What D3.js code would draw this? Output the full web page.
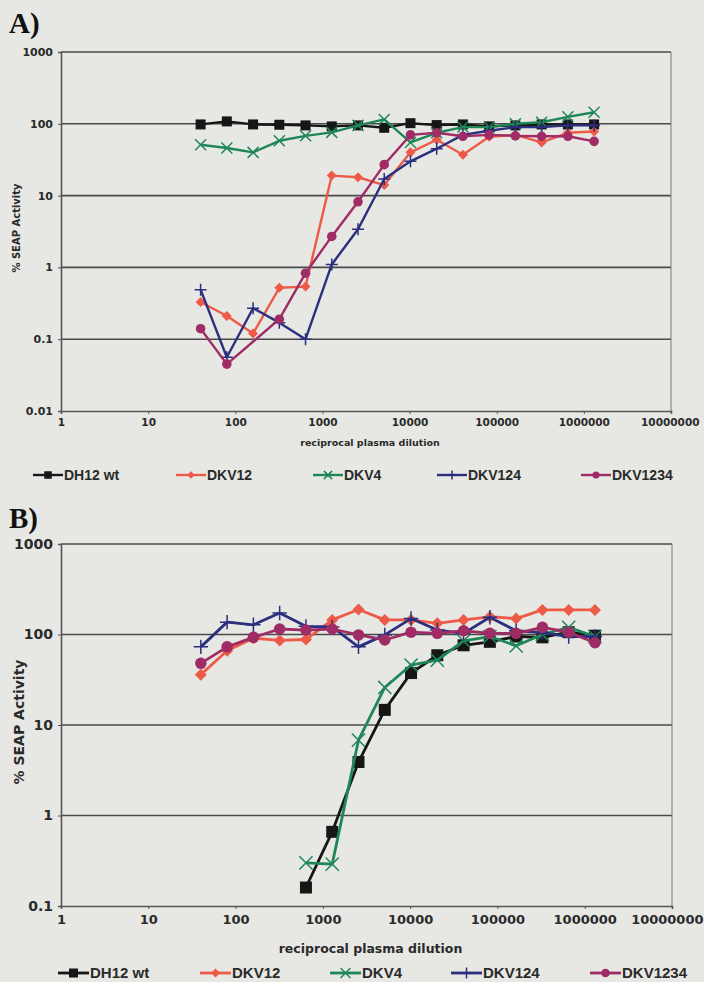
<!DOCTYPE html>
<html>
<head>
<meta charset="utf-8">
<script src="https://cdnjs.cloudflare.com/ajax/libs/d3/7.8.5/d3.min.js"></script>
<style>
  body { margin: 0; background: #e7e8e4; }
  svg { display: block; }
</style>
</head>
<body>
<div id="chart"></div>
<script>
// reciprocal plasma dilutions (x)
var dilutions = [40, 80, 160, 320, 640, 1280, 2560, 5120, 10240, 20480, 40960, 81920, 163840, 327680, 655360, 1310720];

var seriesNames = ["DH12 wt", "DKV12", "DKV4", "DKV124", "DKV1234"];
var seriesColors = ["#161616", "#ee5a48", "#1f8657", "#2b2f7e", "#a02c66"];
var seriesMarkers = ["square", "diamond", "x", "plus", "circle"];

// panel A : % SEAP activity
var dh12A    = [98, 108, 98, 97, 95, 92, 95, 88, 102, 96, 98, 92, 95, 98, 98, 98];
var dkv12A   = [0.33, 0.21, 0.12, 0.52, 0.54, 19, 18, 14, 40, 60, 37, 66, 70, 55, 75, 78];
var dkv4A    = [51, 46, 40, 58, 68, 76, 95, 115, 55, 75, 90, 90, 100, 105, 125, 145];
var dkv124A  = [0.49, 0.056, 0.27, 0.17, 0.1, 1.1, 3.4, 17, 30, 45, 70, 80, 90, 90, 95, 95];
var dkv1234A = [0.14, 0.045, null, 0.19, 0.83, 2.7, 8.2, 27, 70, 75, 67, 70, 68, 67, 67, 57];

// panel B : % SEAP activity
var dh12B    = [null, null, null, null, 0.16, 0.66, 3.9, 14.7, 37.5, 59, 76, 83, 95, 93, 106, 97];
var dkv12B   = [36, 66, 91, 86, 88, 145, 189, 145, 145, 133, 145, 157, 150, 187, 187, 187];
var dkv4B    = [null, null, null, null, 0.3, 0.29, 6.8, 26, 46, 52, 85, 95, 75, 100, 120, 95];
var dkv124B  = [73, 137, 128, 173, 123, 121, 73, 99, 150, 112, 103, 155, 110, 105, 95, 95];
var dkv1234B = [48, 73, 93, 115, 112, 115, 99, 87, 106, 103, 110, 103, 103, 120, 106, 81];

var xTicks = [1, 10, 100, 1000, 10000, 100000, 1000000, 10000000];
var yTicksA = [0.01, 0.1, 1, 10, 100, 1000];
var yTicksB = [0.1, 1, 10, 100, 1000];

var W = 704, H = 982;
var svg = d3.select("#chart").append("svg").attr("width", W).attr("height", H);

var drawPanel = function(p) {
  var x = d3.scaleLog().domain([1, 1e7]).range([p.left, p.right]);
  var y = d3.scaleLog().domain([p.yTicks[0], 1000]).range([p.bottom, p.top]);
  var g = svg.append("g");

  // panel letter
  g.append("text")
    .attr("x", 9).attr("y", p.letterY)
    .attr("font-family", "Liberation Serif, DejaVu Serif, serif")
    .attr("font-weight", "bold").attr("font-size", 29)
    .attr("fill", "#111")
    .text(p.letter);

  // gridlines
  g.selectAll(".grid").data(p.yTicks.slice(1)).enter().append("line")
    .attr("x1", p.left).attr("x2", p.right)
    .attr("y1", function(d) { return y(d); }).attr("y2", function(d) { return y(d); })
    .attr("stroke", "#4a4a4a").attr("stroke-width", 1.6);

  // right border
  g.append("line").attr("x1", p.right).attr("x2", p.right)
    .attr("y1", p.top).attr("y2", p.bottom)
    .attr("stroke", "#7a7a7a").attr("stroke-width", 1);

  // axes
  var xAxis = d3.axisBottom(x).tickValues(xTicks).tickSize(3).tickFormat(d3.format("d"));
  var xg = g.append("g").attr("transform", "translate(0," + p.bottom + ")").call(xAxis);
  xg.select(".domain").attr("stroke", "#555").attr("stroke-width", 1.6);
  xg.selectAll(".tick line").attr("stroke", "#555");
  xg.selectAll("text")
    .attr("font-family", "DejaVu Sans, Verdana, sans-serif").attr("font-weight", "bold")
    .attr("font-size", p.xTickSize).attr("fill", "#2a2a2a").attr("dy", p.xTickDy);
  // keep the last label inside the page
  xg.selectAll(".tick text").filter(function(d) { return d == 1e7; })
    .attr("text-anchor", "end").attr("x", p.lastTickEnd - p.right);

  var yAxis = d3.axisLeft(y).tickValues(p.yTicks).tickSize(3)
    .tickFormat(function(d) { return d < 1 ? String(d) : d3.format("d")(d); });
  var yg = g.append("g").attr("transform", "translate(" + p.left + ",0)").call(yAxis);
  yg.select(".domain").attr("stroke", "#555").attr("stroke-width", 1.6);
  yg.selectAll(".tick line").attr("stroke", "#555");
  yg.selectAll("text")
    .attr("font-family", "DejaVu Sans, Verdana, sans-serif").attr("font-weight", "bold")
    .attr("font-size", p.yTickSize).attr("fill", "#2a2a2a").attr("x", -8);

  // axis titles
  g.append("text")
    .attr("x", (p.left + p.right) / 2 + 4).attr("y", p.xTitleY)
    .attr("text-anchor", "middle")
    .attr("font-family", "DejaVu Sans, Verdana, sans-serif").attr("font-weight", "bold")
    .attr("font-size", p.xTitleSize).attr("fill", "#2a2a2a")
    .text("reciprocal plasma dilution");
  g.append("text")
    .attr("transform", "translate(" + p.yTitleX + "," + p.yTitleY + ") rotate(-90)")
    .attr("text-anchor", "middle")
    .attr("font-family", "DejaVu Sans, Verdana, sans-serif").attr("font-weight", "bold")
    .attr("font-size", p.yTitleSize).attr("fill", "#2a2a2a")
    .text("% SEAP Activity");

  // series
  var line = d3.line()
    .x(function(d) { return x(d.x); })
    .y(function(d) { return y(d.v); });

  p.series.forEach(function(vals, i) {
    var pts = dilutions.map(function(dx, j) { return { x: dx, v: vals[j] }; })
      .filter(function(d) { return d.v != null; });
    g.append("path").datum(pts)
      .attr("d", line).attr("fill", "none")
      .attr("stroke", seriesColors[i]).attr("stroke-width", p.lineW)
      .attr("stroke-linejoin", "round");
    var mk = g.append("g");
    pts.forEach(function(d) {
      drawMarker(mk, seriesMarkers[i], x(d.x), y(d.v), seriesColors[i], p.mSize);
    });
  });

  // legend
  p.legendX.forEach(function(lx, i) {
    var lg = g.append("g");
    lg.append("line")
      .attr("x1", lx).attr("x2", lx + p.legendLine)
      .attr("y1", p.legendY).attr("y2", p.legendY)
      .attr("stroke", seriesColors[i]).attr("stroke-width", p.lineW);
    drawMarker(lg, seriesMarkers[i], lx + p.legendLine / 2, p.legendY, seriesColors[i], p.mSize * 0.75);
    lg.append("text")
      .attr("x", lx + p.legendLine + 1).attr("y", p.legendY).attr("dy", "0.36em")
      .attr("font-family", "Liberation Sans, Arial, sans-serif").attr("font-weight", "bold")
      .attr("font-size", p.legendSize).attr("fill", "#2a2a2a")
      .text(seriesNames[i]);
  });
};

var drawMarker = function(g, type, cx, cy, color, s) {
  if (type == "square") {
    g.append("rect").attr("x", cx - s / 2).attr("y", cy - s / 2)
      .attr("width", s).attr("height", s).attr("fill", color);
  } else if (type == "diamond") {
    var r = s * 0.5;
    g.append("path")
      .attr("d", "M" + cx + "," + (cy - r) + "L" + (cx + r) + "," + cy + "L" + cx + "," + (cy + r) + "L" + (cx - r) + "," + cy + "Z")
      .attr("fill", color);
  } else if (type == "circle") {
    g.append("circle").attr("cx", cx).attr("cy", cy).attr("r", s * 0.48).attr("fill", color);
  } else if (type == "x") {
    var a = s * 0.55;
    g.append("path")
      .attr("d", "M" + (cx - a) + "," + (cy - a) + "L" + (cx + a) + "," + (cy + a) + "M" + (cx - a) + "," + (cy + a) + "L" + (cx + a) + "," + (cy - a))
      .attr("stroke", color).attr("stroke-width", 1.5).attr("fill", "none");
  } else if (type == "plus") {
    var b = s * 0.6;
    g.append("path")
      .attr("d", "M" + (cx - b) + "," + cy + "L" + (cx + b) + "," + cy + "M" + cx + "," + (cy - b) + "L" + cx + "," + (cy + b))
      .attr("stroke", color).attr("stroke-width", 1.5).attr("fill", "none");
  }
};

drawPanel({
  letter: "A)", letterY: 33,
  left: 61, right: 671, top: 52, bottom: 411,
  yTicks: yTicksA,
  series: [dh12A, dkv12A, dkv4A, dkv124A, dkv1234A],
  xTickSize: 10.5, xTickDy: "0.9em", yTickSize: 11, lastTickEnd: 699,
  xTitleY: 446, xTitleSize: 9.5,
  yTitleX: 20, yTitleY: 228, yTitleSize: 10,
  lineW: 2.4, mSize: 10,
  legendY: 475, legendLine: 30, legendSize: 14,
  legendX: [33, 176, 313, 437, 581]
});

drawPanel({
  letter: "B)", letterY: 528,
  left: 61, right: 672, top: 544, bottom: 906,
  yTicks: yTicksB,
  series: [dh12B, dkv12B, dkv4B, dkv124B, dkv1234B],
  xTickSize: 13, xTickDy: "0.95em", yTickSize: 14, lastTickEnd: 703,
  xTitleY: 953, xTitleSize: 12.5,
  yTitleX: 24, yTitleY: 722, yTitleSize: 14,
  lineW: 2.8, mSize: 12,
  legendY: 973, legendLine: 31, legendSize: 15,
  legendX: [58, 200, 330, 451, 590]
});
</script>
</body>
</html>
